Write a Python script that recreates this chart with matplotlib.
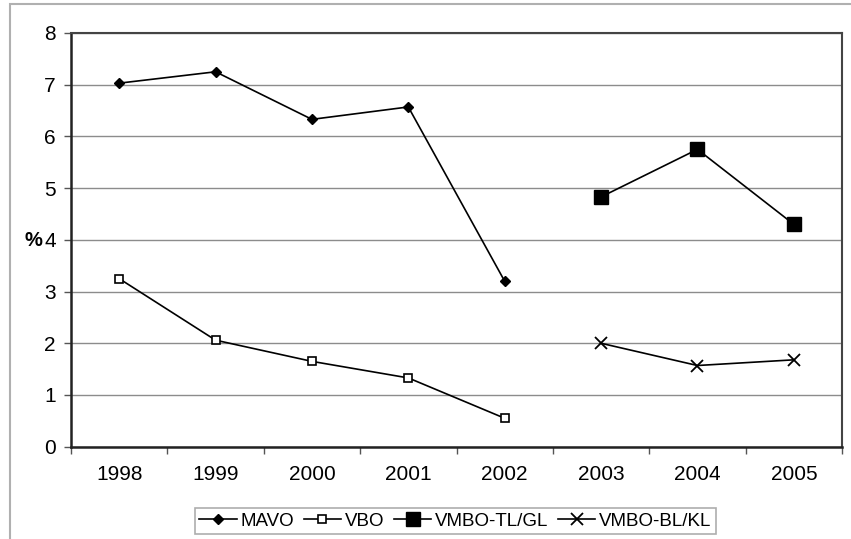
import matplotlib.pyplot as plt
import matplotlib.patches as mpatches
import numpy as np

plt.rcParams['font.family'] = ['Liberation Sans', 'DejaVu Sans']

# Years and percentages per school type
years = ['1998', '1999', '2000', '2001', '2002', '2003', '2004', '2005']
mavo = [7.03, 7.25, 6.33, 6.57, 3.2]
vbo = [3.25, 2.06, 1.65, 1.33, 0.55]
vmbo_tl_gl = [4.83, 5.75, 4.3]
vmbo_bl_kl = [2.0, 1.57, 1.68]

fig = plt.figure(figsize=(8.51, 5.39), dpi=100)
ax = fig.add_axes([71 / 851, 1 - 446.7 / 539, (842 - 71) / 851, (446.7 - 33) / 539])

# grey outer frame of the chart
fig.patches.append(mpatches.Rectangle((10 / 851, -0.05), 1.2, 1 - 4 / 539 + 0.05,
                                      transform=fig.transFigure, fill=False,
                                      edgecolor='#b0b0b0', linewidth=1.5))

x = np.arange(len(years))
ax.plot(x[:5], mavo, color='black', lw=1.2, marker='D', ms=5.5, label='MAVO')
ax.plot(x[:5], vbo, color='black', lw=1.2, marker='s', ms=6, mfc='white', mew=1.2, label='VBO')
ax.plot(x[5:], vmbo_tl_gl, color='black', lw=1.2, marker='s', ms=10, label='VMBO-TL/GL')
ax.plot(x[5:], vmbo_bl_kl, color='black', lw=1.2, marker='x', ms=8, mew=1.3, label='VMBO-BL/KL')

ax.set_xlim(-0.5, len(years) - 0.5)
ax.set_ylim(0, 8)
ax.set_yticks(range(0, 9))
ax.set_xticks(x)
ax.set_xticklabels(years)
ax.set_xticks(np.arange(-0.5, len(years)), minor=True)
ax.tick_params(axis='x', which='major', length=0, pad=13, labelsize=15)
ax.tick_params(axis='x', which='minor', length=5, width=1, color='#555555')
ax.tick_params(axis='y', length=5, width=1, pad=6, labelsize=15, color='#555555')

ax.grid(axis='y', color='#8c8c8c', lw=1)
ax.set_axisbelow(True)
for side in ['left', 'bottom']:
    ax.spines[side].set_linewidth(1.8)
    ax.spines[side].set_color('#222222')
for side in ['top', 'right']:
    ax.spines[side].set_linewidth(1.5)
    ax.spines[side].set_color('#444444')

fig.text(33 / 851, 1 - 241 / 539, '%', fontsize=14.5, fontweight='bold',
         ha='center', va='center')

leg = fig.legend(loc='center', bbox_to_anchor=(455.5 / 851, 1 - 521 / 539), ncol=4,
                 fontsize=13.5, frameon=True, fancybox=False, handlelength=2.0,
                 handletextpad=0.2, columnspacing=0.5, borderpad=0.25)
leg.get_frame().set_edgecolor('#999999')
leg.get_frame().set_linewidth(1.2)

fig.savefig('out.png', dpi=100)
